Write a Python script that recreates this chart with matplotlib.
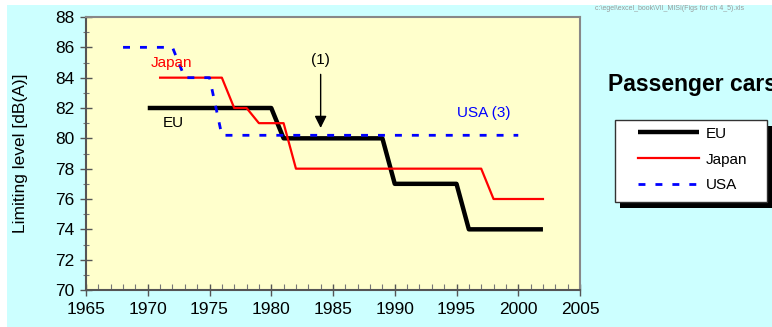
import matplotlib
matplotlib.use('Agg')
import matplotlib.pyplot as plt
from matplotlib.patches import Rectangle
from matplotlib.ticker import MultipleLocator

# data: step lines of noise limits (year, dB(A))
eu_years = [1970, 1980, 1981, 1989, 1990, 1995, 1996, 2002]
eu_level = [82, 82, 80, 80, 77, 77, 74, 74]

japan_years = [1971, 1976, 1977, 1978, 1979, 1981, 1982, 1997, 1998, 2002]
japan_level = [84, 84, 82, 82, 81, 81, 78, 78, 76, 76]

usa_years = [1968, 1972, 1973, 1975, 1976, 2000]
usa_level = [86, 86, 84, 84, 80.2, 80.2]

W, H = 772, 327
plt.rcParams['font.family'] = ['Liberation Sans', 'DejaVu Sans']

fig = plt.figure(figsize=(W / 100, H / 100), dpi=100)
fig.patch.set_facecolor('#ccffff')
# white margins of the screenshot
fig.patches.append(Rectangle((0, 1 - 5 / H), 1, 5 / H, transform=fig.transFigure,
                             facecolor='white', edgecolor='none', zorder=0))
fig.patches.append(Rectangle((0, 0), 7 / W, 1, transform=fig.transFigure,
                             facecolor='white', edgecolor='none', zorder=0))

ax = fig.add_axes([86 / W, 1 - 290 / H, 494 / W, 273 / H])
ax.set_facecolor('#ffffcc')

ax.plot(eu_years, eu_level, color='black', lw=3.2, label='EU', solid_capstyle='butt')
ax.plot(japan_years, japan_level, color='#ff0000', lw=1.6, label='Japan')
ax.plot(usa_years, usa_level, color='#0000ff', lw=2, dashes=(2.5, 3.6), label='USA')

ax.set_xlim(1965, 2005)
ax.set_ylim(70, 88)
ax.xaxis.set_major_locator(MultipleLocator(5))
ax.xaxis.set_minor_locator(MultipleLocator(1))
ax.yaxis.set_major_locator(MultipleLocator(2))
ax.yaxis.set_minor_locator(MultipleLocator(1))
ax.tick_params(which='major', direction='inout', length=9, width=1, color='#555555',
               labelsize=12.5, pad=4)
ax.tick_params(which='minor', direction='in', length=4, width=0.8, color='#777777')
ax.tick_params(axis='y', which='minor', direction='inout', length=5)

for side in ['left', 'bottom']:
    ax.spines[side].set_color('#555555')
    ax.spines[side].set_linewidth(1.5)
for side in ['top', 'right']:
    ax.spines[side].set_color('#888888')
    ax.spines[side].set_linewidth(1.5)

ax.set_ylabel('Limiting level [dB(A)]', fontsize=12.5)
ax.yaxis.set_label_coords(-0.117, 0.5)

# labels in the plot
ax.text(1970.2, 85.0, 'Japan', color='#ff0000', fontsize=11, va='center', ha='left')
ax.text(1971.2, 81.0, 'EU', color='black', fontsize=11, va='center', ha='left')
ax.text(1995.0, 81.67, 'USA (3)', color='#0000ff', fontsize=11, va='center', ha='left')
ax.text(1984, 85.15, '(1)', color='black', fontsize=11, va='center', ha='center')
ax.annotate('', xy=(1984, 80.5), xytext=(1984, 84.4),
            arrowprops=dict(arrowstyle='-|>', color='black', lw=1, mutation_scale=18))

fig.text(608 / W, 1 - 85 / H, 'Passenger cars', fontsize=16.5, fontweight='bold',
         va='center', ha='left')
fig.text(595 / W, 1 - 8 / H, 'c:\\egel\\excel_book\\VII_MISI(Figs for ch 4_5).xls',
         fontsize=5, color='#999999', va='center', ha='left')

# legend box (Excel style: white box with a hard black shadow)
bx, by, bw, bh = 615, 120, 152, 82
fig.patches.append(Rectangle(((bx + 5) / W, 1 - (by + bh + 6) / H), bw / W, bh / H,
                             transform=fig.transFigure, facecolor='black',
                             edgecolor='none', zorder=3))
fig.patches.append(Rectangle((bx / W, 1 - (by + bh) / H), bw / W, bh / H,
                             transform=fig.transFigure, facecolor='white',
                             edgecolor='#333333', lw=1, zorder=4))

leg = fig.legend(loc='upper left', bbox_to_anchor=(633 / W, 1 - 122 / H),
                 frameon=False, fontsize=11, handlelength=4.0,
                 handletextpad=0.45, labelspacing=0.78, borderpad=0.3,
                 borderaxespad=0)
leg.set_zorder(5)

fig.savefig('out.png', dpi=100, facecolor=fig.get_facecolor())
